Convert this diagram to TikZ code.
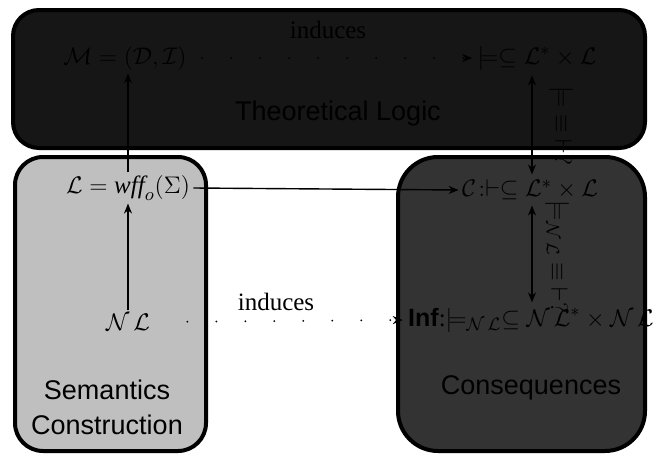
\documentclass[tikz,border=0pt]{standalone}
\usepackage{fontspec}
\setmainfont{Liberation Serif}
\setsansfont{Liberation Sans}
\usetikzlibrary{arrows.meta}
\definecolor{topfill}{HTML}{161616}
\definecolor{leftfill}{HTML}{BFBFBF}
\definecolor{rightfill}{HTML}{333333}
\begin{document}
\begin{tikzpicture}[x=0.5pt,y=-0.5pt,
  box/.style={draw=black, line width=2pt},
  mtxt/.style={font=\fontsize{12.5}{14}\selectfont, inner sep=1.5pt},
  lbl/.style={font=\fontsize{13.5}{17.5}\selectfont\sffamily, align=center},
  arr/.style={-{Stealth[length=5pt,width=4pt]}, line width=0.7pt},
  darr/.style={{Stealth[length=5pt,width=4pt]}-{Stealth[length=5pt,width=4pt]}, line width=0.7pt, shorten <=1pt, shorten >=1pt},
  dotarr/.style={-{Stealth[length=5pt,width=4pt]}, line width=1pt, line cap=round, dash pattern=on 0pt off 14.5pt, shorten >=1pt},
]
\useasboundingbox (0,0) rectangle (653,455);
\draw[box, fill=topfill, rounded corners=13pt] (13,10) rectangle (645,148);
\draw[box, fill=leftfill, rounded corners=14pt] (15,157) rectangle (206,451);
\draw[box, fill=rightfill, rounded corners=20pt] (398,157) rectangle (645,451);

\node[lbl] (TL) at (338,114) {Theoretical Logic};
\node[lbl] (SC) at (107,407) {Semantics\\Construction};
\node[lbl] (Cons) at (531,388) {Consequences};

\node[mtxt] (M) at (125,58) {$\mathcal{M} = (\mathcal{D}, \mathcal{I})$};
\node[mtxt] (mod) at (537,58) {$\models\subseteq \mathcal{L}^*\times\mathcal{L}$};
\node[mtxt] (wff) at (128,188) {$\mathcal{L} = \mathit{wff}_o(\Sigma)$};
\node[mtxt] (C) at (530,190) {$\mathcal{C}\!:\vdash\subseteq \mathcal{L}^*\times\mathcal{L}$};
\node[mtxt] (NL) at (128,322) {$\mathcal{N\,L}$};
\node[mtxt] (Inf) at (531,320) {\textsf{\textbf{Inf}}:$\models_{\mathcal{N\,L}}\subseteq\mathcal{N\,L}^*\times\mathcal{N\,L}$};

\node[mtxt] (ind1) at (328,30) {induces};
\node[mtxt] (ind2) at (276,302) {induces};

\node[mtxt, rotate=-90] (l1) at (561,126) {$\models\;\equiv\;\vdash ?$};
\node[mtxt, rotate=-90] (l2) at (557,257) {$\models_{\mathcal{N\,L}}\;\equiv\;\vdash ?$};

\coordinate (ax) at (532,0);
\draw[arr] (NL.north) -- (wff.south);
\draw[arr] (wff.north) -- (wff.north |- M.south);
\draw[dotarr, shorten <=6pt] (M.east) -- (mod.west);
\draw[arr] (wff.east) -- (C.west);
\draw[dotarr, shorten <=17pt] (NL.east) -- (Inf.west);
\draw[darr] (mod.south -| ax) -- (C.north -| ax);
\draw[darr] (C.south -| ax) -- (Inf.north -| ax);
\end{tikzpicture}
\end{document}
